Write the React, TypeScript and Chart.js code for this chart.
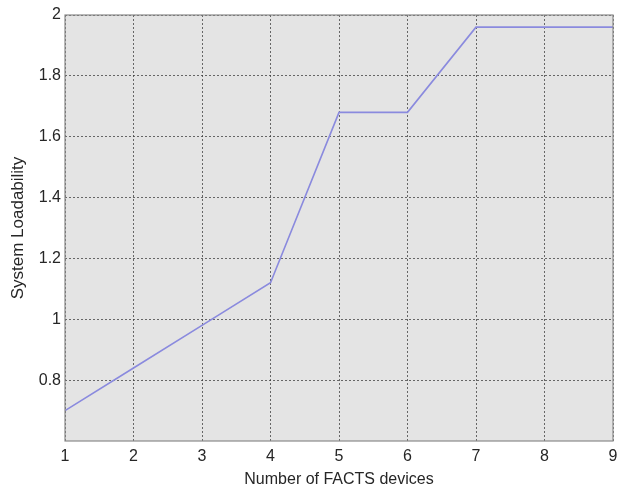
import React, { useEffect, useRef } from "react";
import { Chart, registerables } from "chart.js";

Chart.register(...registerables);

// Number of FACTS devices installed and resulting system loadability
const devices = [1, 2, 3, 4, 5, 6, 7, 8, 9];
const loadability = [0.7, 0.84, 0.98, 1.12, 1.68, 1.68, 1.96, 1.96, 1.96];
const yTicks = [0.8, 1, 1.2, 1.4, 1.6, 1.8, 2];
const xTicks = [1, 2, 3, 4, 5, 6, 7, 8, 9];

const FONT = "'Liberation Sans', Arial, Helvetica, sans-serif";
const TEXT = "#262626";

// Light grey plot background with a thin grey frame around the axes box
const framePlugin = {
  id: "frame",
  beforeDraw(chart: any) {
    const { ctx, chartArea: a } = chart;
    ctx.save();
    ctx.fillStyle = "#e4e4e4";
    ctx.fillRect(a.left, a.top, a.right - a.left, a.bottom - a.top);
    ctx.restore();
  },
  afterDraw(chart: any) {
    const { ctx, chartArea: a } = chart;
    ctx.save();
    ctx.strokeStyle = "#8a8a8a";
    ctx.lineWidth = 1.2;
    ctx.setLineDash([]);
    ctx.strokeRect(a.left, a.top, a.right - a.left, a.bottom - a.top);
    ctx.restore();
  },
};

export default function App() {
  const ref = useRef<HTMLCanvasElement | null>(null);

  useEffect(() => {
    if (!ref.current) return;
    const chart = new Chart(ref.current, {
      type: "line",
      data: {
        datasets: [
          {
            data: devices.map((d, i) => ({ x: d, y: loadability[i] })),
            borderColor: "rgb(138,138,222)",
            borderWidth: 1.6,
            pointRadius: 0,
            tension: 0,
            fill: false,
          },
        ],
      },
      options: {
        responsive: false,
        animation: false,
        layout: { padding: { top: 15, right: 11, left: 0, bottom: 0 } },
        plugins: {
          legend: { display: false },
          tooltip: { enabled: false },
        },
        scales: {
          x: {
            type: "linear",
            min: 1,
            max: 9,
            afterBuildTicks: (axis: any) => {
              axis.ticks = xTicks.map((v) => ({ value: v }));
            },
            afterFit: (axis: any) => {
              axis.height = 48;
            },
            ticks: {
              color: TEXT,
              font: { family: FONT, size: 16 },
              padding: 6,
              maxRotation: 0,
            },
            grid: {
              color: "rgba(60,60,60,0.75)",
              lineWidth: 1,
              drawTicks: false,
            },
            border: { display: false, dash: [2, 2] },
            title: {
              display: true,
              text: "Number of FACTS devices",
              color: TEXT,
              font: { family: FONT, size: 16 },
              padding: { top: 2, bottom: 0 },
            },
          },
          y: {
            type: "linear",
            min: 0.6,
            max: 2,
            afterBuildTicks: (axis: any) => {
              axis.ticks = yTicks.map((v) => ({ value: v }));
            },
            afterFit: (axis: any) => {
              axis.width = 65;
            },
            ticks: {
              color: TEXT,
              font: { family: FONT, size: 16 },
              padding: 4,
              callback: (v: any) => String(Math.round(Number(v) * 10) / 10),
            },
            grid: {
              color: "rgba(60,60,60,0.75)",
              lineWidth: 1,
              drawTicks: false,
            },
            border: { display: false, dash: [2, 2] },
            title: {
              display: true,
              text: "System Loadability",
              color: TEXT,
              font: { family: FONT, size: 17 },
              padding: { top: 8, bottom: 4 },
            },
          },
        },
      },
      plugins: [framePlugin],
    });
    return () => chart.destroy();
  }, []);

  return (
    <div style={{ position: "absolute", left: 0, top: 0, width: 624, height: 489, background: "#fff" }}>
      <canvas ref={ref} width={624} height={489} style={{ display: "block" }} />
    </div>
  );
}
